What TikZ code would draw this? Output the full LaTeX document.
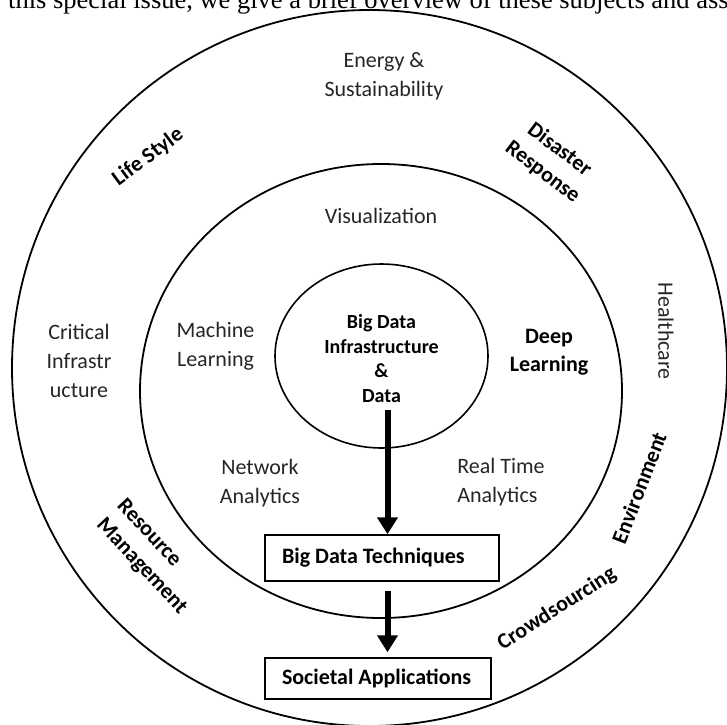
\documentclass[tikz,border=0pt]{standalone}
\usepackage{fontspec}
\setmainfont{Carlito}
\newfontfamily\timesf{Liberation Serif}
\usetikzlibrary{arrows.meta,shapes.geometric,calc}
\begin{document}
\begin{tikzpicture}[x=1pt,y=1pt,
  ring/.style={draw=black, line width=1.8pt, ellipse, inner sep=0pt},
  box/.style={draw=black, line width=1.5pt, inner ysep=0pt, font=\fontsize{22}{26}\selectfont\bfseries},
  reg/.style={font=\fontsize{22}{29}\selectfont, text=black!85, align=center, inner sep=0pt},
  bld/.style={font=\fontsize{22}{28}\selectfont\bfseries, align=center, inner sep=0pt},
  flow/.style={line width=6pt, -{Triangle[width=20pt,length=17pt]}}
]
\useasboundingbox (0,0) rectangle (727,-724);
\fill[white] (0,0) rectangle (727,-724);
\begin{scope}
\clip (0,0) rectangle (727,-724);
\node[anchor=base west, font=\timesf\fontsize{26.5}{30}\selectfont, inner sep=0pt] (header) at (8,-8.5) {this special issue, we give a brief overview of these subjects and ass};
\node[ring, minimum width=715pt, minimum height=716pt] (outer) at (369.5,-368) {};
\end{scope}
\node[ring, minimum width=482pt, minimum height=454pt] (middle) at (381,-391) {};
\node[ring, line width=1.6pt, minimum width=213pt, minimum height=184pt] (inner) at (381.5,-356) {};

\node[bld, font=\fontsize{20}{24.5}\selectfont\bfseries] (core) at (381.5,-358.5) {Big Data\\Infrastructure\\\&\\Data};

\node[box, minimum height=46pt, inner xsep=17pt] (tech) at (382,-558) {\makebox[200pt][l]{Big Data Techniques}};
\node[box, minimum height=41pt, inner xsep=17pt] (apps) at (378,-678.5) {\makebox[192pt][l]{Societal Applications}};

\coordinate (a1) at (387.5,-410);
\draw[flow] (a1) -- (a1 |- tech.north);
\draw[flow] ($(tech.south -| a1)+(0,-9)$) -- ($(apps.north -| a1)+(0,5)$);

\node[reg] (energy) at (384,-76.5) {Energy \&\\Sustainability};
\node[reg] (vis) at (381,-216) {Visualization};
\node[reg] (crit) at (79,-361) {Critical\\Infrastr\\ucture};
\node[reg] (ml) at (215.5,-346.5) {Machine\\Learning};
\node[reg] (net) at (260,-483) {Network\\Analytics};
\node[reg, align=left] (rt) at (501,-482.5) {Real Time\\Analytics};
\node[reg, rotate=-90] (health) at (666,-331) {Healthcare};

\node[bld] (deep) at (549,-352) {Deep\\Learning};
\node[bld, rotate=36.5] (life) at (148,-157) {Life Style};
\node[bld, rotate=-37] (disaster) at (551,-161) {Disaster\\Response};
\node[bld, rotate=69] (env) at (639,-488) {Environment};
\node[bld, rotate=-47, align=left] (res) at (151.6,-557) {Resource\\Management};
\node[bld, rotate=32.6] (crowd) at (557,-609) {Crowdsourcing};
\end{tikzpicture}
\end{document}
